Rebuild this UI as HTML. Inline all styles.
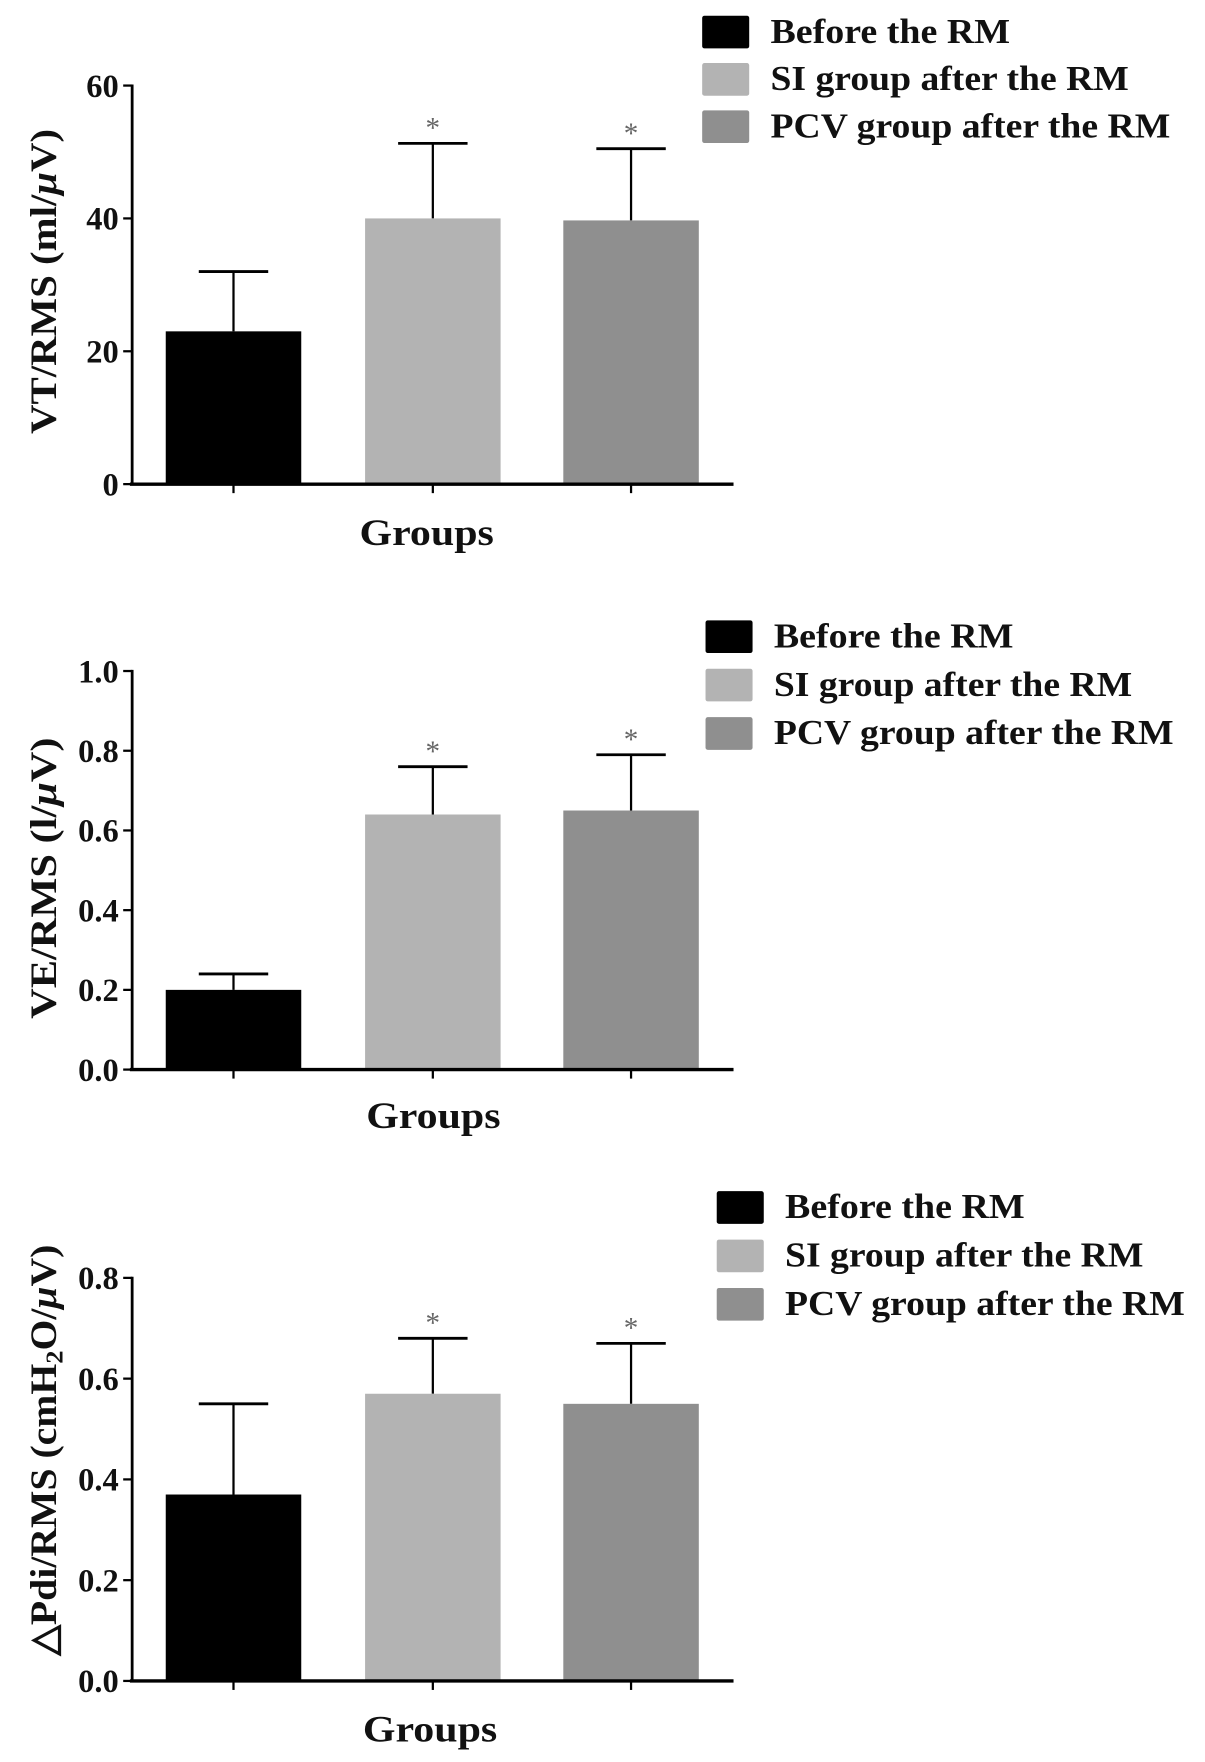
<!DOCTYPE html>
<html><head><meta charset="utf-8"><style>
html,body{margin:0;padding:0;background:#fff}
svg{display:block}
text{font-family:"Liberation Serif",serif;font-weight:bold;fill:#111}
</style></head><body>
<svg id="fig" width="1205" height="1762" viewBox="0 0 1076 1565" preserveAspectRatio="none" xmlns="http://www.w3.org/2000/svg"></svg>
<script>
const categories = ["Before the RM","SI group after the RM","PCV group after the RM"];
const colors = ["#000000","#b3b3b3","#8f8f8f"];
const vtMeans = [23, 40, 39.7];
const vtErr = [32, 51.3, 50.5];
const vtTicks = [0, 20, 40, 60];
const vtTickLabels = ["0","20","40","60"];
const veMeans = [0.2, 0.64, 0.65];
const veErr = [0.24, 0.76, 0.79];
const veTicks = [0, 0.2, 0.4, 0.6, 0.8, 1.0];
const veTickLabels = ["0.0","0.2","0.4","0.6","0.8","1.0"];
const pdiMeans = [0.37, 0.57, 0.55];
const pdiErr = [0.55, 0.68, 0.67];
const pdiTicks = [0, 0.2, 0.4, 0.6, 0.8];
const pdiTickLabels = ["0.0","0.2","0.4","0.6","0.8"];
const sig = [false, true, true];
const legendLens = [214, 320, 357];

const NS = "http://www.w3.org/2000/svg";
const svg = document.getElementById('fig');
function mk(tag, attrs, parent){
  const e = document.createElementNS(NS, tag);
  for (const k in attrs) e.setAttribute(k, attrs[k]);
  (parent||svg).appendChild(e);
  return e;
}
function panel(cfg){
  const g = mk('g', {});
  
  
  const y = v => cfg.y0 - v / cfg.max * (cfg.y0 - cfg.yTop);
  const barL = [148, 326, 503], barW = 121;
  cfg.means.forEach((m, i) => {
    const cx = barL[i] + barW/2;
    const top = y(cfg.err[i]);
    const l = mk('line', {x1:cx, x2:cx, y1:y(m), y2:top, stroke:'#000', 'stroke-width':2}, g);
    
    
    const c = mk('line', {x1:cx-31, x2:cx+31, y1:top, y2:top, stroke:'#000', 'stroke-width':2.5}, g);
    
    
    const r = mk('rect', {x:barL[i], y:y(m), width:barW, height:cfg.y0 - y(m), fill:colors[i]}, g);
    
    
    if (sig[i]) {
      const s = mk('text', {x:cx, y:top-5, 'text-anchor':'middle', 'font-size':26}, g);
      s.style.fill = '#666';
      s.style.fontWeight = 'normal';
      s.textContent = '*';
      
      
    }
    const t = mk('line', {x1:cx, x2:cx, y1:cfg.y0, y2:cfg.y0+8, stroke:'#000', 'stroke-width':2}, g);
    
    
  });
  const ya = mk('line', {x1:118, x2:118, y1:cfg.yTop-1, y2:cfg.y0, stroke:'#000', 'stroke-width':2.5}, g);
  
  
  const xa = mk('line', {x1:116, x2:655, y1:cfg.y0, y2:cfg.y0, stroke:'#000', 'stroke-width':3}, g);
  
  
  cfg.ticks.forEach((v, i) => {
    const tl = mk('line', {x1:110, x2:118, y1:y(v), y2:y(v), stroke:'#000', 'stroke-width':2}, g);
    
    
    const tx = mk('text', {x:106, y:y(v)+10, 'text-anchor':'end', 'font-size':29}, g);
    tx.textContent = cfg.tickLabels[i];
    
    
  });
  const cy = (cfg.y0 + cfg.yTop)/2;
  const yl = mk('text', {x:0, y:0, 'text-anchor':'middle', 'font-size':33, textLength:cfg.ylen, lengthAdjust:'spacingAndGlyphs', transform:`translate(50,${cfg.ycy}) rotate(-90)`}, g);
  yl.innerHTML = cfg.ylabel;
  
  
  const xl = mk('text', {x:cfg.gx, y:cfg.gy, 'text-anchor':'middle', 'font-size':33, textLength:120, lengthAdjust:'spacingAndGlyphs'}, g);
  xl.textContent = 'Groups';
  
  
  categories.forEach((c, i) => {
    const ry = cfg.legY + i*cfg.legStep;
    const sw = mk('rect', {x:cfg.legX, y:ry-14, width:42, height:29, rx:2, fill:colors[i]}, g);
    
    
    const lt = mk('text', {x:cfg.legX+61, y:ry+10, 'font-size':31, textLength:legendLens[i], lengthAdjust:'spacingAndGlyphs'}, g);
    lt.textContent = c;
    
    
  });
}
panel({name:'vt-rms-chart', means:vtMeans, err:vtErr, ticks:vtTicks, tickLabels:vtTickLabels, max:60, y0:430, yTop:76,
  ylabel:'VT/RMS (ml/<tspan font-style="italic">μ</tspan>V)', ylen:271, ycy:250, gx:381, gy:484, legX:627, legY:28, legStep:42});
panel({name:'ve-rms-chart', means:veMeans, err:veErr, ticks:veTicks, tickLabels:veTickLabels, max:1.0, y0:950, yTop:596,
  ylabel:'VE/RMS (l/<tspan font-style="italic">μ</tspan>V)', ylen:250, ycy:780, gx:387, gy:1002, legX:630, legY:565, legStep:43});
panel({name:'pdi-rms-chart', means:pdiMeans, err:pdiErr, ticks:pdiTicks, tickLabels:pdiTickLabels, max:0.8, y0:1493, yTop:1135,
  ylabel:'△Pdi/RMS (cmH<tspan font-size="22" dy="6">2</tspan><tspan dy="-6">O/</tspan><tspan font-style="italic">μ</tspan>V)', ylen:365, ycy:1288, gx:384, gy:1547, legX:640, legY:1072, legStep:43});
</script>
</body></html>
